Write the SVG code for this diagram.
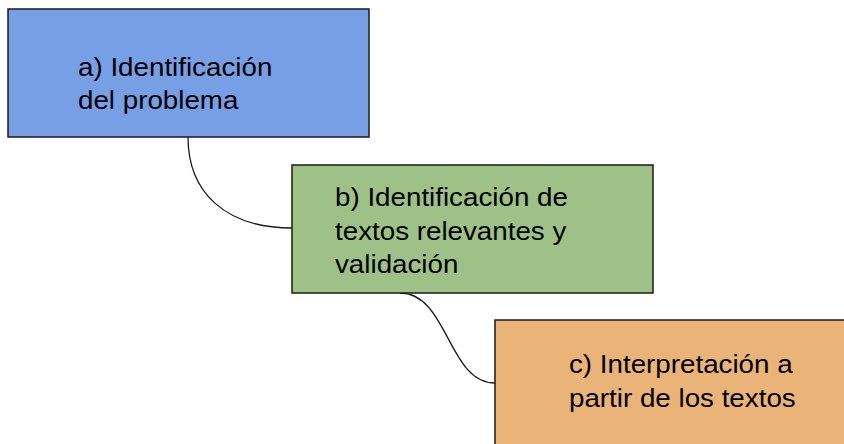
<svg xmlns="http://www.w3.org/2000/svg" width="844" height="444" viewBox="0 0 844 444">
<style>
.box{stroke:#1a1a1a;stroke-width:1.5}
.lbl{font-family:"Liberation Sans",Arial,sans-serif;font-size:25px;fill:#000}
.conn{fill:none;stroke:#1a1a1a;stroke-width:1.3}
</style>
<rect width="844" height="444" fill="#ffffff"/>
<g id="connectors">
<path class="conn" d="M188,137 C188,192 225,228 292,228"/>
<path class="conn" d="M400,293 C448,293 448,383 495,383"/>
</g>
<g id="node-a">
<rect class="box" x="8" y="9" width="361" height="128" fill="#779fe5"/>
<g transform="translate(78,0) scale(1.11,1)">
<text class="lbl" x="0" y="76">a) Identificación</text>
<text class="lbl" x="0" y="109">del problema</text>
</g>
</g>
<g id="node-b">
<rect class="box" x="292" y="165" width="361" height="128" fill="#9dc186"/>
<g transform="translate(335,0) scale(1.11,1)">
<text class="lbl" x="0" y="206">b) Identificación de</text>
<text class="lbl" x="0" y="240">textos relevantes y</text>
<text class="lbl" x="0" y="273">validación</text>
</g>
</g>
<g id="node-c">
<rect class="box" x="495" y="320" width="360" height="140" fill="#eab378"/>
<g transform="translate(569,0) scale(1.11,1)">
<text class="lbl" x="0" y="373">c) Interpretación a</text>
<text class="lbl" x="0" y="407">partir de los textos</text>
</g>
</g>
</svg>
